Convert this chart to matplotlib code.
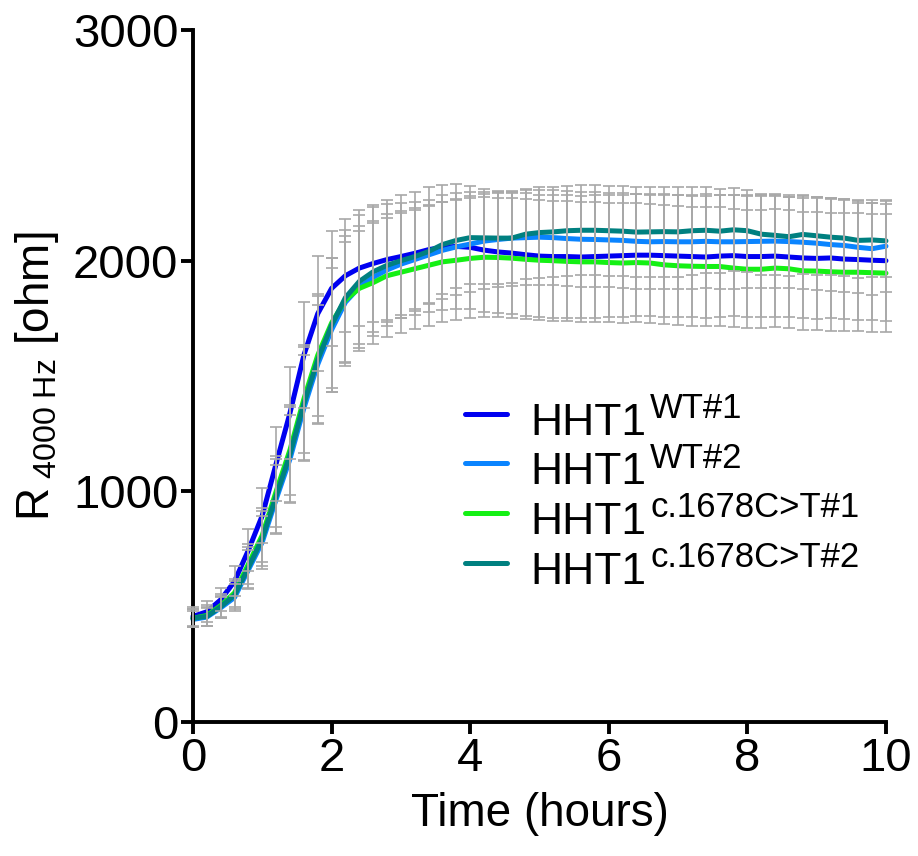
import numpy as np
import matplotlib
matplotlib.use('Agg')
import matplotlib.pyplot as plt

# time grid of the measurements (hours)
hours = np.round(np.arange(0, 10.01, 0.2), 1)

# mean resistance at 4000 Hz (ohm)
wt1 = [458, 478, 530, 610, 745, 895, 1120, 1340, 1590, 1770, 1880, 1935, 1968, 1988, 2005, 2018, 2032,
       2048, 2058, 2062, 2058, 2046, 2038, 2033, 2026, 2020, 2018, 2018, 2016, 2018, 2020, 2022, 2024,
       2024, 2022, 2020, 2018, 2016, 2020, 2022, 2018, 2018, 2020, 2016, 2012, 2010, 2012, 2007, 2005,
       2002, 2000]
wt2 = [445, 455, 495, 540, 660, 780, 965, 1140, 1360, 1550, 1700, 1820, 1885, 1928, 1960, 1985, 2005,
       2025, 2045, 2060, 2072, 2085, 2092, 2098, 2100, 2102, 2100, 2096, 2093, 2092, 2090, 2088, 2084,
       2082, 2083, 2082, 2082, 2084, 2082, 2082, 2083, 2084, 2085, 2083, 2080, 2076, 2070, 2066, 2058,
       2052, 2063]
mut1 = [450, 462, 505, 560, 685, 810, 1000, 1180, 1400, 1590, 1730, 1830, 1880, 1905, 1935, 1950, 1965,
        1980, 1995, 2002, 2010, 2015, 2014, 2011, 2006, 2002, 2000, 1997, 1995, 1995, 1992, 1990, 1992,
        1990, 1982, 1978, 1976, 1975, 1975, 1968, 1963, 1963, 1968, 1965, 1956, 1955, 1952, 1950, 1950,
        1948, 1946]
mut2 = [450, 458, 500, 550, 670, 795, 980, 1160, 1380, 1570, 1720, 1840, 1910, 1952, 1980, 2000, 2018,
        2040, 2070, 2088, 2100, 2099, 2098, 2098, 2115, 2122, 2125, 2130, 2132, 2132, 2130, 2128, 2124,
        2125, 2126, 2125, 2130, 2132, 2128, 2134, 2130, 2115, 2110, 2104, 2114, 2108, 2102, 2098, 2088,
        2090, 2086]

# standard deviations
wt1_sd = [40, 45, 50, 65, 90, 120, 160, 200, 230, 250, 250, 245, 250, 255, 260, 265, 268, 270, 270, 270,
          268, 267, 266, 266, 266, 266, 266, 266, 265, 265, 265, 265, 265, 265, 264, 264, 264, 263, 263,
          263, 262, 262, 262, 261, 261, 261, 260, 260, 260, 260, 260]
wt2_sd = [35, 40, 45, 60, 85, 115, 150, 190, 230, 260, 270, 260, 245, 235, 225, 220, 215, 212, 210, 208,
          207, 206, 206, 206, 206, 206, 206, 206, 206, 206, 205, 205, 205, 205, 205, 205, 205, 204, 204,
          204, 203, 203, 203, 202, 202, 202, 201, 201, 200, 200, 200]
mut1_sd = [40, 45, 50, 62, 85, 118, 155, 195, 235, 265, 280, 275, 270, 268, 266, 264, 262, 262, 261, 260,
           260, 260, 260, 260, 260, 260, 260, 260, 260, 260, 259, 259, 259, 258, 258, 258, 257, 257, 257,
           256, 256, 256, 256, 255, 255, 255, 255, 255, 255, 255, 255]
mut2_sd = [38, 42, 48, 62, 88, 120, 160, 205, 245, 275, 290, 295, 290, 280, 265, 250, 235, 225, 215, 205,
           200, 198, 197, 196, 196, 196, 196, 196, 196, 196, 196, 196, 196, 195, 195, 195, 190, 186, 182,
           180, 178, 176, 174, 172, 170, 168, 166, 164, 162, 160, 158]

superscripts = ['WT#1', 'WT#2', 'c.1678C>T#1', 'c.1678C>T#2']
colors = ['#0000f0', '#0a84ff', '#14f014', '#008080']

plt.rcParams['font.family'] = ['Liberation Sans', 'DejaVu Sans']
plt.rcParams['mathtext.fontset'] = 'custom'
plt.rcParams['mathtext.rm'] = 'Liberation Sans'
plt.rcParams['mathtext.it'] = 'Liberation Sans:italic'
plt.rcParams['mathtext.bf'] = 'Liberation Sans:bold'

fig = plt.figure(figsize=(9.18, 8.56), dpi=100)
ax = fig.add_axes([0.2102, 0.1565, 0.7549, 0.8084])

series = [(wt1, wt1_sd), (wt2, wt2_sd), (mut1, mut1_sd), (mut2, mut2_sd)]
for (m, sd), c in zip(series, colors):
    ax.errorbar(hours, m, yerr=sd, fmt='none', ecolor='#a8a8a8', elinewidth=1.2,
                capsize=4, capthick=1.2, zorder=3, clip_on=False)
for (m, sd), c in zip(series, colors):
    ax.plot(hours, m, color=c, lw=3.6, zorder=2, solid_capstyle='round', clip_on=False)

ax.set_xlim(0, 10)
ax.set_ylim(0, 3000)
ax.set_xticks([0, 2, 4, 6, 8, 10])
ax.set_yticks([0, 1000, 2000, 3000])
for s in ['top', 'right']:
    ax.spines[s].set_visible(False)
for s in ['left', 'bottom']:
    ax.spines[s].set_linewidth(2.8)
ax.tick_params(direction='out', length=8.5, width=2.8, labelsize=34, pad=2)

ax.set_xlabel('Time (hours)', fontsize=33, labelpad=8)
ax.set_ylabel(r'R$_{\ \mathrm{4000\ Hz}}$ [ohm]', fontsize=33)
ax.yaxis.set_label_coords(-0.19, 0.5)

# legend drawn by hand so the superscripts look like the original
leg_y = [0.445, 0.374, 0.302, 0.2298]
for y, c, sup in zip(leg_y, colors, superscripts):
    ax.plot([0.3925, 0.4531], [y, y], transform=ax.transAxes, color=c, lw=3.6,
            solid_capstyle='round', clip_on=False)
    base = ax.text(0.4863, y - 0.0303, 'HHT1', transform=ax.transAxes, fontsize=32,
                   va='baseline', ha='left')
    ax.annotate(sup, xy=(1, y - 0.0303), xycoords=(base, ax.transAxes), xytext=(3, 12),
                textcoords='offset points', fontsize=25, va='baseline', ha='left')

fig.savefig('out.png', dpi=100)
